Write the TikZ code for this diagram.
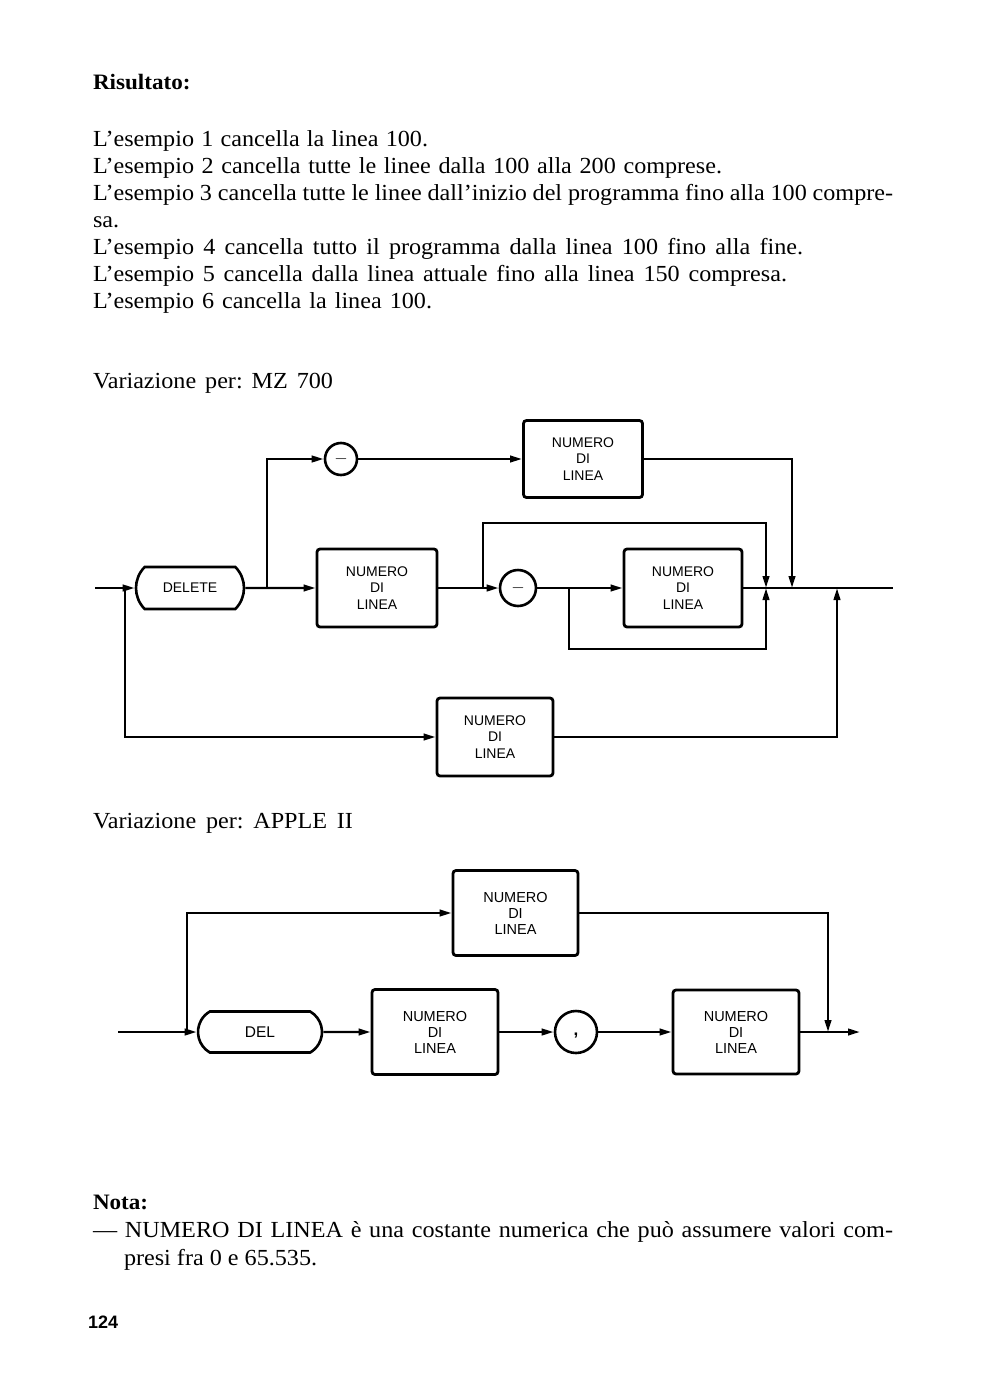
\documentclass[tikz,border=0pt]{standalone}
\usepackage{fontspec}
\setmainfont{Liberation Serif}[FakeStretch=1.05]
\newfontfamily\sansf{Liberation Sans}
\usetikzlibrary{arrows.meta,shapes.misc}
\frenchspacing
\begin{document}
\begin{tikzpicture}[x=1pt,y=-1pt,
  txt/.style={inner sep=0pt, outer sep=0pt, anchor=base west, font=\frenchspacing\fontsize{23}{27}\selectfont},
  btxt/.style={inner sep=0pt, outer sep=0pt, anchor=base west, font=\fontsize{22}{27}\selectfont\bfseries},
  conn/.style={line width=2.4pt},
  arr/.style={conn,-{Triangle[length=12pt,width=6.5pt]}},
  numbox/.style={draw, line width=2.8pt, rounded corners=3pt, inner sep=0pt, align=center, font=\sansf\fontsize{14}{16.5}\selectfont},
  kw/.style={draw, line width=2.6pt, rounded rectangle, inner sep=0pt, font=\sansf\fontsize{14}{16}\selectfont},
  circ/.style={draw, circle, line width=2.6pt, inner sep=0pt, font=\fontsize{19}{19}\selectfont},
]
\fill[white] (0,0) rectangle (988,1400);
\useasboundingbox (0,0) rectangle (988,1400);

% ---------- text ----------
\node[btxt] (h1) at (93,89) {Risultato:};
\node[txt] (l1) at (93,146) {\makebox[335pt][s]{L'esempio 1 cancella la linea 100.}};
\node[txt] (l2) at (93,173) {\makebox[629pt][s]{L'esempio 2 cancella tutte le linee dalla 100 alla 200 comprese.}};
\node[txt] (l3) at (93,200) {\makebox[800pt][s]{L'esempio 3 cancella tutte le linee dall'inizio del programma fino alla 100 compre-}};
\node[txt] (l3b) at (93,227) {sa.};
\node[txt] (l4) at (93,254) {\makebox[710pt][s]{L'esempio 4 cancella tutto il programma dalla linea 100 fino alla fine.}};
\node[txt] (l5) at (93,281) {\makebox[694pt][s]{L'esempio 5 cancella dalla linea attuale fino alla linea 150 compresa.}};
\node[txt] (l6) at (93,308) {\makebox[339pt][s]{L'esempio 6 cancella la linea 100.}};

\node[txt] (v1) at (93,388) {\makebox[240pt][s]{Variazione per: MZ 700}};
\node[txt] (v2) at (93,828) {\makebox[260pt][s]{Variazione per: APPLE II}};

\node[btxt] (h2) at (93,1209) {Nota:};
\node[txt] (n1t) at (93,1237) {\makebox[800pt][s]{— NUMERO DI LINEA è una costante numerica che può assumere valori com-}};
\node[txt] (n2t) at (124,1265) {presi fra 0 e 65.535.};
\node[inner sep=0pt, anchor=base west, font=\sansf\bfseries\fontsize{18}{18}\selectfont] (pg) at (88,1328) {124};

% ---------- diagram MZ 700 ----------
\node[kw, minimum width=108pt, minimum height=42pt, rounded rectangle arc length=90] (del) at (190,588) {DELETE};
\node[numbox, minimum width=120pt, minimum height=78pt] (n1) at (377,588) {NUMERO\\DI\\LINEA};
\node[numbox, minimum width=119pt, minimum height=77pt] (nt) at (583,459) {NUMERO\\DI\\LINEA};
\node[numbox, minimum width=118pt, minimum height=78pt] (n2) at (683,588) {NUMERO\\DI\\LINEA};
\node[numbox, minimum width=116pt, minimum height=78pt] (nb) at (495,737) {NUMERO\\DI\\LINEA};
\node[circ, minimum size=32pt] (ct) at (341,459) {$-$};
\node[circ, minimum size=36pt] (cm) at (518,588) {$-$};

\coordinate (s1) at (95,588);
\coordinate (j0) at (125,588);
\coordinate (j0b) at (125,737);
\coordinate (j1) at (267,588);
\coordinate (j1t) at (267,459);
\coordinate (j2) at (483,588);
\coordinate (j2t) at (483,523);
\coordinate (j3) at (569,588);
\coordinate (j3b) at (569,649);
\coordinate (m1) at (766,588);
\coordinate (m1t) at (766,523);
\coordinate (m1b) at (766,649);
\coordinate (m2) at (792,588);
\coordinate (m2t) at (792,459);
\coordinate (m3) at (837,588);
\coordinate (m3b) at (837,737);
\coordinate (e1) at (893,588);

\draw[arr] (s1) -- (del);
\draw[arr] (j0) -- (j0b) -- (nb);
\draw[arr] (del) -- (n1);
\draw[arr] (j1) -- (j1t) -- (ct);
\draw[arr] (ct) -- (nt);
\draw[arr] (nt) -- (m2t) -- (m2);
\draw[arr] (n1) -- (cm);
\draw[arr] (cm) -- (n2);
\draw[conn] (n2) -- (e1);
\draw[arr] (j2) -- (j2t) -- (m1t) -- (m1);
\draw[arr] (j3) -- (j3b) -- (m1b) -- (m1);
\draw[arr] (nb) -- (m3b) -- (m3);

% ---------- diagram APPLE II ----------
\node[kw, minimum width=124pt, minimum height=41pt, rounded rectangle arc length=120, font=\sansf\fontsize{15.5}{16}\selectfont] (adel) at (260,1032) {DEL};
\node[numbox, minimum width=126pt, minimum height=85pt, font=\sansf\fontsize{14.5}{16}\selectfont] (a1) at (435,1032) {NUMERO\\DI\\LINEA};
\node[numbox, minimum width=125pt, minimum height=85pt, font=\sansf\fontsize{14.5}{16}\selectfont] (at) at (515.5,913) {NUMERO\\DI\\LINEA};
\node[numbox, minimum width=126pt, minimum height=84pt, font=\sansf\fontsize{14.5}{16}\selectfont] (a2) at (736,1032) {NUMERO\\DI\\LINEA};
\node[circ, minimum size=42pt, text height=6pt, text depth=0pt, font=\sansf\bfseries\fontsize{17}{17}\selectfont] (ac) at (576,1032) {,};

\coordinate (as) at (118,1032);
\coordinate (aj) at (187,1032);
\coordinate (ajt) at (187,913);
\coordinate (am) at (828,1032);
\coordinate (amt) at (828,913);
\coordinate (ae) at (860,1032);

\draw[arr] (as) -- (adel);
\draw[arr] (aj) -- (ajt) -- (at);
\draw[arr] (adel) -- (a1);
\draw[arr] (a1) -- (ac);
\draw[arr] (ac) -- (a2);
\draw[arr] (a2) -- (ae);
\draw[arr] (at) -- (amt) -- (am);
\end{tikzpicture}
\end{document}
